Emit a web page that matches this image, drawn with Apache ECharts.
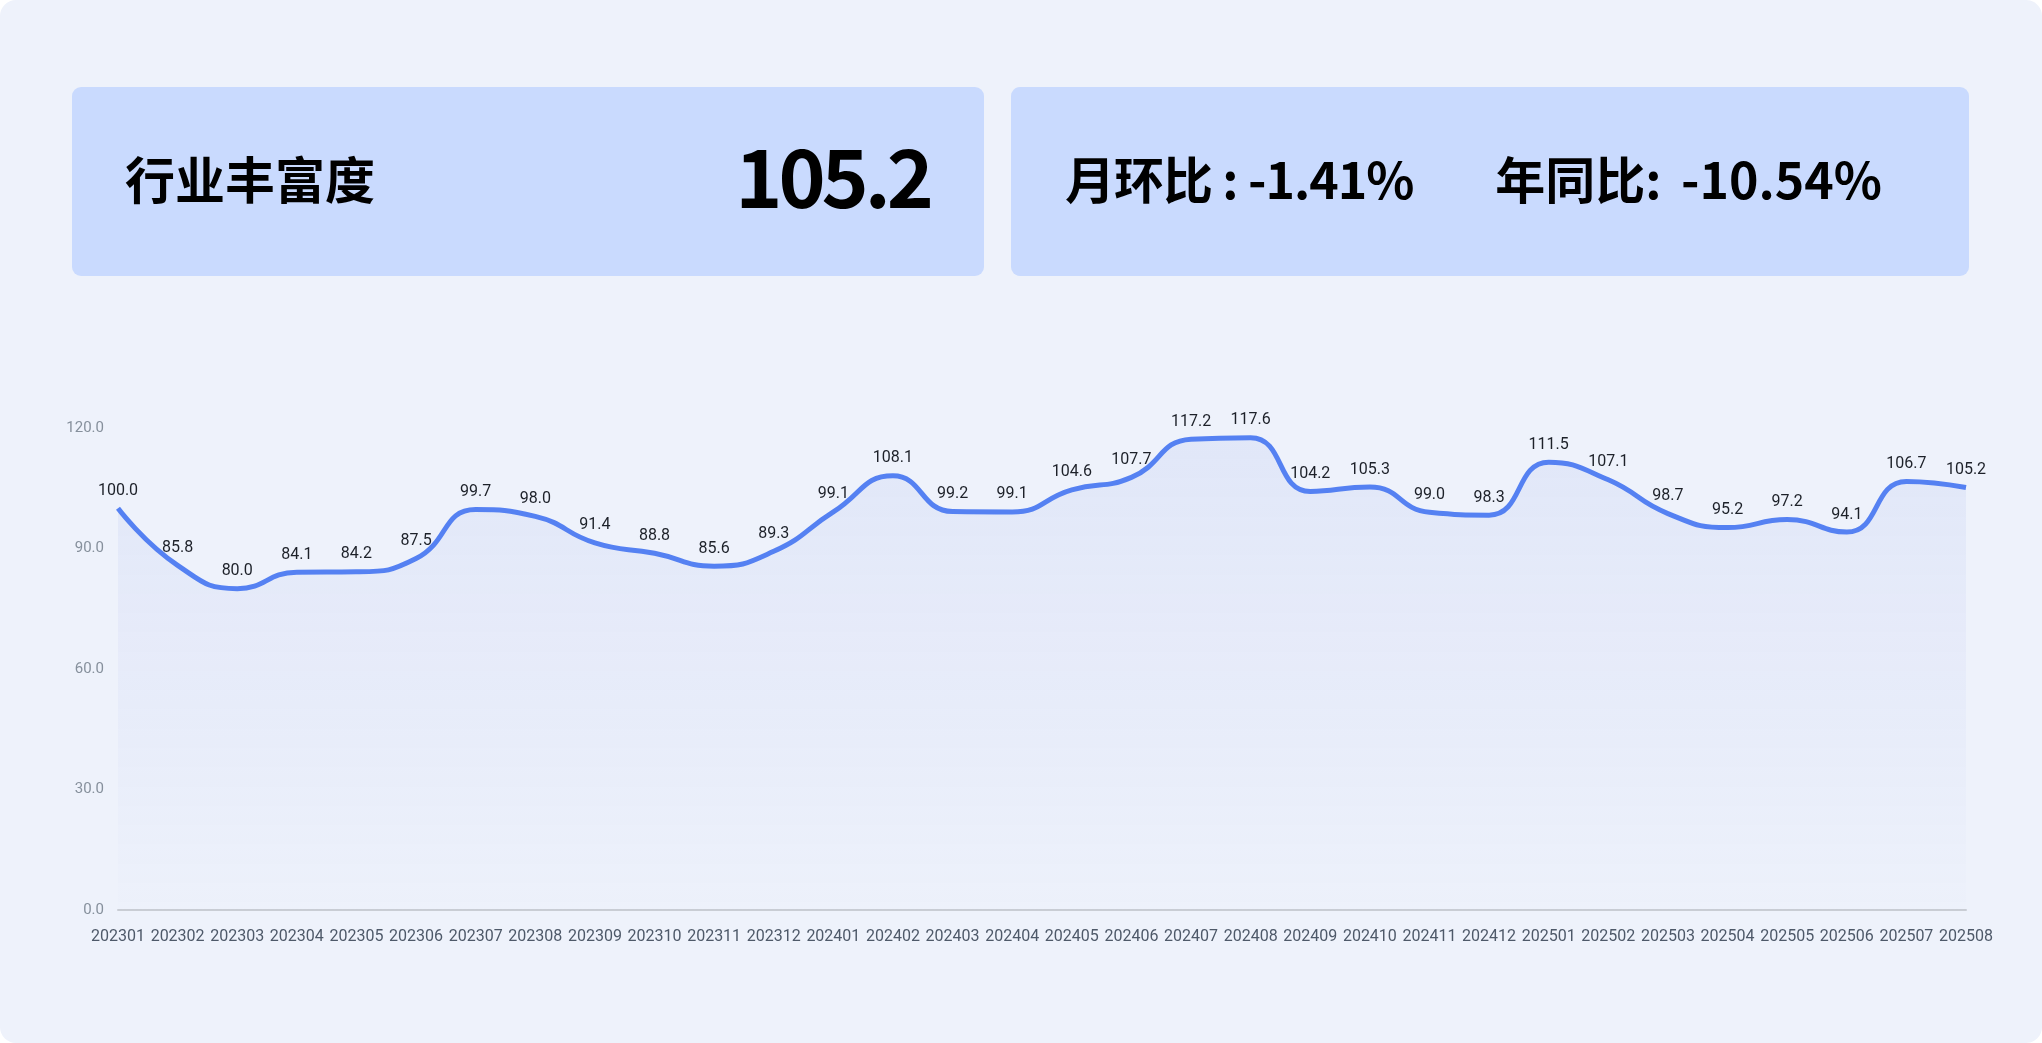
<!DOCTYPE html>
<html>
<head>
<meta charset="utf-8">
<script src="https://cdn.jsdelivr.net/npm/echarts@6/dist/echarts.min.js"></script>
<style>
  html, body { margin: 0; padding: 0; background: #ffffff; }
  #page {
    position: relative;
    width: 2042px;
    height: 1043px;
    background: #eef2fb;
    border-radius: 16px;
    overflow: hidden;
    font-family: "Noto Sans CJK SC", "Noto Sans", sans-serif;
  }
  .card {
    position: absolute;
    top: 87px;
    height: 189px;
    background: #c9dafe;
    border-radius: 9px;
    display: flex;
    align-items: center;
    box-sizing: border-box;
    color: #000;
  }
  #card-left { left: 72px; width: 912px; padding: 0 54px 0 53px; justify-content: space-between; }
  #card-right { left: 1011px; width: 958px; padding: 0 0 0 54px; }
  .title { font-size: 50px; font-weight: 700; position: relative; top: -5px; }
  .big { font-size: 80px; font-weight: 700; letter-spacing: -4px; position: relative; top: -9px; }
  .ratio { font-size: 50px; font-weight: 700; letter-spacing: -1px; position: relative; top: -5px; }
  #yoy { margin-left: 82px; letter-spacing: 0; word-spacing: 8px; }
  #chart { position: absolute; left: 0; top: 0; width: 2042px; height: 1043px; }
</style>
</head>
<body>
<div id="page">
  <div class="card" id="card-left">
    <span class="title">行业丰富度</span>
    <span class="big" id="latest"></span>
  </div>
  <div class="card" id="card-right">
    <span class="ratio" id="mom"></span>
    <span class="ratio" id="yoy"></span>
  </div>
  <div id="chart"></div>
</div>
<script>
const months = [
  '202301', '202302', '202303', '202304', '202305', '202306', '202307', '202308',
  '202309', '202310', '202311', '202312', '202401', '202402', '202403', '202404',
  '202405', '202406', '202407', '202408', '202409', '202410', '202411', '202412',
  '202501', '202502', '202503', '202504', '202505', '202506', '202507', '202508'
];

const richness = [
  100.0, 85.8, 80.0, 84.1, 84.2, 87.5, 99.7, 98.0,
  91.4, 88.8, 85.6, 89.3, 99.1, 108.1, 99.2, 99.1,
  104.6, 107.7, 117.2, 117.6, 104.2, 105.3, 99.0, 98.3,
  111.5, 107.1, 98.7, 95.2, 97.2, 94.1, 106.7, 105.2
];

const latestValue = '105.2';
const momText = '月环比 : -1.41%';
const yoyText = '年同比: -10.54%';

document.getElementById('latest').textContent = latestValue;
document.getElementById('mom').textContent = momText;
document.getElementById('yoy').textContent = yoyText;

const chart = echarts.init(document.getElementById('chart'), null, { renderer: 'canvas' });

const option = {
  animation: false,
  textStyle: { fontFamily: 'Roboto, "Noto Sans", sans-serif' },
  grid: { left: 118, right: 76, top: 428, bottom: 133 },
  xAxis: {
    type: 'category',
    data: months,
    boundaryGap: false,
    offset: 7,
    axisLine: { lineStyle: { color: '#c9cdd4', width: 2 } },
    axisTick: { show: false },
    axisLabel: {
      interval: 0,
      margin: 12,
      color: '#4e5969',
      fontSize: 16
    }
  },
  yAxis: {
    type: 'value',
    min: 0,
    max: 120,
    interval: 30,
    splitLine: { show: false },
    axisLine: { show: false },
    axisTick: { show: false },
    axisLabel: {
      margin: 14,
      color: '#86909c',
      fontSize: 15,
      formatter: (v) => v.toFixed(1)
    }
  },
  series: [
    {
      type: 'line',
      data: richness,
      smooth: true,
      symbol: 'circle',
      symbolSize: 1,
      showSymbol: true,
      itemStyle: { color: 'rgba(85, 129, 242, 0)' },
      lineStyle: { color: '#5581f2', width: 5 },
      areaStyle: {
        color: new echarts.graphic.LinearGradient(0, 0, 0, 1, [
          { offset: 0, color: 'rgba(120, 140, 230, 0.15)' },
          { offset: 1, color: 'rgba(120, 140, 230, 0.01)' }
        ])
      },
      label: {
        show: true,
        position: 'top',
        distance: 9,
        color: '#1d2129',
        fontSize: 16,
        formatter: (p) => p.value.toFixed(1)
      }
    }
  ]
};

chart.setOption(option);
</script>
</body>
</html>
